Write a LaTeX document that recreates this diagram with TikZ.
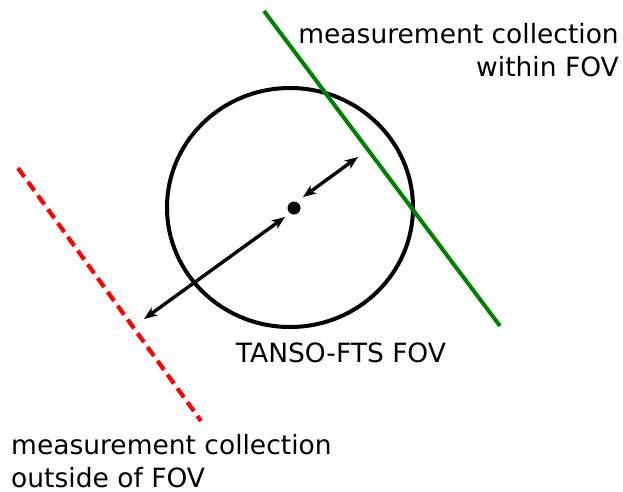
\documentclass[tikz,border=0pt]{standalone}
\usepackage{fontspec}
\setmainfont{DejaVu Sans}
\usetikzlibrary{arrows.meta}

\begin{document}
\begin{tikzpicture}[x=1pt, y=-1pt, every node/.style={font=\fontsize{26.5}{32.5}\selectfont},
    measure/.style={line width=3.4pt, {Stealth[length=13pt,width=10pt,inset=3.5pt]}-{Stealth[length=13pt,width=10pt,inset=3.5pt]}}]
  \useasboundingbox (0,0) rectangle (623,491);

  % field of view
  \coordinate (fov) at (290,207.5);
  \draw[line width=4pt] (fov) ellipse (123pt and 119.5pt);
  \coordinate (ctr) at (294,208);
  \fill (ctr) circle (6.5pt);
  \node (fovlabel) at (341,353) {TANSO-FTS FOV};

  % measurement lines
  \coordinate (gA) at (264,11);
  \coordinate (gB) at (500,326);
  \draw[green!50!black, line width=4pt] (gA) -- (gB);
  \coordinate (rA) at (18,168);
  \coordinate (rB) at (201,421);
  \draw[red, line width=4.2pt, dash pattern=on 11pt off 6pt] (rA) -- (rB);

  % distances
  \coordinate (inA) at (303,197);
  \coordinate (inB) at (358,157);
  \draw[measure] (inA) -- (inB);
  \coordinate (outA) at (285,217);
  \coordinate (outB) at (144,319);
  \draw[measure] (outA) -- (outB);

  % labels
  \node[anchor=east, align=right, inner sep=2pt] (inlabel) at (621,50) {measurement collection\\within FOV};
  \node[anchor=west, align=left, inner sep=2pt] (outlabel) at (9,461) {measurement collection\\outside of FOV};
\end{tikzpicture}
\end{document}
